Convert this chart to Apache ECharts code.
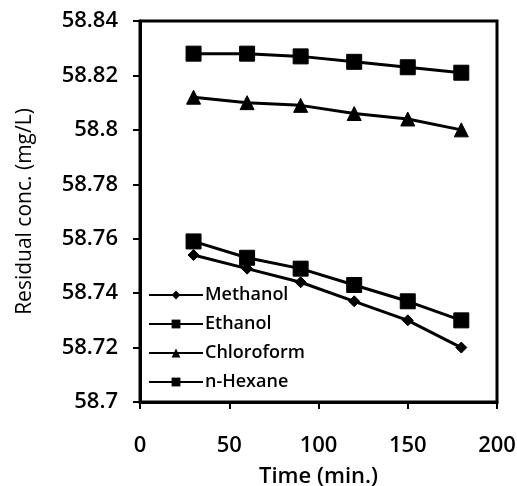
<!DOCTYPE html>
<html>
<head>
<meta charset="utf-8">
<script src="https://cdn.jsdelivr.net/npm/echarts@6/dist/echarts.min.js"></script>
<style>
  html, body { margin: 0; padding: 0; background: #fff; }
  #chart { width: 517px; height: 486px; }
</style>
</head>
<body>
<div id="chart"></div>
<script>
// Sampling times (min.)
const times = [30, 60, 90, 120, 150, 180];

// Residual concentration (mg/L) for each solvent
const methanol   = [58.754, 58.749, 58.744, 58.737, 58.730, 58.720];
const ethanol    = [58.759, 58.753, 58.749, 58.743, 58.737, 58.730];
const chloroform = [58.812, 58.810, 58.809, 58.806, 58.804, 58.800];
const nHexane    = [58.828, 58.828, 58.827, 58.825, 58.823, 58.821];

const seriesNames = ['Methanol', 'Ethanol', 'Chloroform', 'n-Hexane'];

const FONT = '"Open Sans", "Liberation Sans", sans-serif';

function pairs(vals) {
  return times.map((t, i) => [t, vals[i]]);
}

function lineSeries(name, vals, symbol, size) {
  return {
    name: name,
    type: 'line',
    data: pairs(vals),
    symbol: symbol,
    symbolSize: size,
    showAllSymbol: true,
    lineStyle: { color: '#000', width: 3 },
    itemStyle: { color: '#000', borderColor: '#000' },
    emphasis: { disabled: true },
    z: 3
  };
}

const chart = echarts.init(document.getElementById('chart'), null, { renderer: 'canvas' });

chart.setOption({
  animation: false,
  backgroundColor: '#fff',
  grid: {
    left: 140, right: 20, top: 21, bottom: 84,
    outerBoundsMode: 'none',
    containLabel: false,
    show: true, borderColor: '#000', borderWidth: 3, backgroundColor: 'transparent'
  },
  legend: {
    data: seriesNames,
    orient: 'vertical',
    left: 143,
    top: 280,
    itemWidth: 54,
    itemHeight: 11,
    itemGap: 9,
    lineStyle: { width: 2 },
    textStyle: {
      fontFamily: FONT, fontSize: 18, fontWeight: 600, color: '#000',
      lineHeight: 20, padding: [0, 0, 0, -3]
    },
    inactiveColor: '#000'
  },
  xAxis: {
    type: 'value',
    min: 0, max: 200, interval: 50,
    name: 'Time (min.)',
    nameLocation: 'middle',
    nameGap: 64,
    nameTextStyle: { fontFamily: FONT, fontSize: 22, fontWeight: 600, color: '#000' },
    axisLine: { show: true, lineStyle: { color: '#000', width: 3 } },
    axisTick: { show: true, inside: false, length: 7, lineStyle: { color: '#000', width: 2 } },
    axisLabel: { fontFamily: FONT, fontSize: 22, fontWeight: 600, color: '#000', margin: 33 },
    splitLine: { show: false }
  },
  yAxis: {
    type: 'value',
    min: 58.7, max: 58.84, interval: 0.02,
    name: 'Residual conc. (mg/L)',
    nameLocation: 'middle',
    nameGap: 104,
    nameRotate: 90,
    nameTextStyle: { fontFamily: FONT, fontSize: 21, fontWeight: 400, color: '#000' },
    axisLine: { show: true, lineStyle: { color: '#000', width: 3 } },
    axisTick: { show: true, inside: false, length: 7, lineStyle: { color: '#000', width: 2 } },
    axisLabel: {
      fontFamily: FONT, fontSize: 22, fontWeight: 600, color: '#000', margin: 22,
      formatter: v => String(Number(v.toFixed(2)))
    },
    splitLine: { show: false }
  },
  series: [
    lineSeries('Methanol', methanol, 'diamond', 11),
    lineSeries('Ethanol', ethanol, 'rect', 15),
    lineSeries('Chloroform', chloroform, 'triangle', 14),
    lineSeries('n-Hexane', nHexane, 'rect', 15)
  ]
});
</script>
</body>
</html>
